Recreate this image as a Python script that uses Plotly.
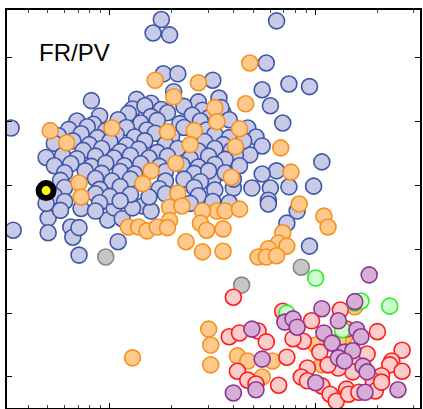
import plotly.graph_objects as go

# log10 of the x ratio, and y value
blue_pts = [
    (0.25, 5.60), (0.21, 5.39), (0.29, 5.36), (0.81, 5.58), (0.76, 4.92), (0.26, 4.75),
    (0.33, 4.75), (0.87, 4.59), (0.97, 4.55), (0.74, 4.50), (-0.09, 4.33), (0.78, 4.25),
    (0.84, 3.98), (-0.48, 3.90), (0.55, 4.14), (0.67, 3.90), (0.71, 3.76), (0.74, 3.62),
    (0.68, 3.48), (1.03, 3.37), (0.81, 3.23), (0.74, 3.18), (0.99, 2.99), (0.87, 2.98),
    (0.78, 2.96), (0.69, 2.96), (0.60, 2.96), (0.77, 2.77), (0.50, 3.09), (0.50, 4.65),
    (0.31, 4.47), (-0.47, 2.30), (-0.30, 2.49), (-0.30, 2.26), (-0.19, 2.35), (-0.18, 2.19),
    (-0.15, 2.34), (-0.15, 1.91), (0.04, 2.12), (-0.01, 2.46), (0.02, 2.65), (0.06, 2.48),
    (0.16, 2.68), (0.20, 2.60), (0.11, 2.65), (0.77, 2.71), (0.91, 2.60), (0.86, 2.41),
    (0.97, 2.05),
    (0.13, 4.35), (0.20, 4.29), (0.43, 4.31), (0.53, 4.37),
    (0.11, 4.20), (0.17, 4.25), (0.25, 4.19), (0.36, 4.24), (0.45, 4.18), (0.54, 4.22),
    (-0.05, 4.09), (0.09, 4.13), (0.20, 4.08), (0.28, 4.14), (0.40, 4.10), (0.48, 4.06),
    (-0.16, 4.01), (-0.08, 3.96), (0.04, 4.03), (0.15, 3.98), (0.23, 4.02), (0.34, 3.97),
    (0.44, 4.01), (0.58, 4.03),
    (-0.20, 3.88), (-0.11, 3.92), (-0.02, 3.86), (0.08, 3.91), (0.18, 3.87), (0.36, 3.91),
    (0.47, 3.87),
    (-0.25, 3.78), (-0.14, 3.81), (-0.06, 3.75), (0.03, 3.80), (0.12, 3.76), (0.22, 3.82),
    (0.30, 3.77), (0.51, 3.80), (0.58, 3.75), (0.65, 3.70),
    (-0.27, 3.66), (-0.18, 3.70), (-0.10, 3.64), (0.00, 3.69), (0.08, 3.63), (0.17, 3.70),
    (0.27, 3.65), (0.46, 3.69), (0.55, 3.64),
    (-0.13, 3.55), (-0.04, 3.58), (0.05, 3.53), (0.14, 3.57), (0.23, 3.52), (0.33, 3.58),
    (0.43, 3.54), (0.51, 3.58), (0.59, 3.55), (0.61, 3.47),
    (-0.31, 3.44), (-0.23, 3.47), (-0.16, 3.42), (-0.07, 3.46), (0.02, 3.43), (0.10, 3.47),
    (0.19, 3.43), (0.28, 3.46), (0.39, 3.42), (0.48, 3.46), (0.56, 3.41),
    (-0.27, 3.31), (-0.19, 3.34), (-0.09, 3.30), (-0.02, 3.35), (0.07, 3.31), (0.15, 3.34),
    (0.24, 3.30), (0.35, 3.32), (0.43, 3.29), (0.51, 3.33), (0.63, 3.31),
    (-0.22, 3.20), (-0.12, 3.23), (-0.04, 3.19), (0.05, 3.22), (0.12, 3.18), (0.27, 3.22),
    (0.41, 3.19), (0.48, 3.23), (0.56, 3.20),
    (-0.24, 3.08), (-0.07, 3.11), (0.01, 3.07), (0.10, 3.10), (0.27, 3.07), (0.36, 3.10),
    (0.44, 3.06), (0.60, 3.10),
    (-0.22, 2.97), (-0.05, 2.94), (0.05, 2.98), (0.24, 2.95), (0.41, 2.97), (0.51, 2.93),
    (-0.27, 2.84), (-0.07, 2.87), (0.00, 2.83), (0.10, 2.86), (0.19, 2.82), (0.27, 2.87),
    (0.43, 2.84),
    (-0.31, 2.72), (-0.22, 2.75), (-0.05, 2.73), (0.05, 2.76), (0.39, 2.72), (0.50, 2.75),
    (0.58, 2.73),
    (-0.24, 2.61), (-0.14, 2.64), (-0.07, 2.60),
]

orange_pts = [
    (0.22, 4.65), (0.43, 4.61), (0.31, 4.39), (0.68, 4.92), (0.66, 4.28), (-0.29, 3.86),
    (-0.21, 3.67), (0.01, 3.90), (0.28, 3.84), (0.41, 3.86), (0.39, 3.64), (0.32, 3.35),
    (0.20, 3.23), (0.16, 3.03), (-0.15, 3.04), (-0.14, 2.82), (0.33, 2.88), (0.51, 4.22),
    (0.52, 4.00), (0.63, 3.89), (0.61, 3.61), (0.83, 3.59), (0.88, 3.21), (0.59, 3.13),
    (0.92, 2.71), (0.52, 2.60), (0.56, 2.60), (0.63, 2.63), (0.45, 2.60), (0.44, 2.41),
    (0.47, 2.30), (0.29, 2.66), (0.35, 2.68), (0.29, 2.45), (0.09, 2.35), (0.14, 2.35),
    (0.18, 2.29), (0.23, 2.35), (0.28, 2.34), (0.37, 2.12), (0.45, 1.96), (0.55, 2.32),
    (0.55, 1.97), (1.04, 2.52), (1.06, 2.35), (0.84, 2.26), (0.82, 2.10), (0.86, 2.05),
    (0.77, 2.01), (0.72, 1.88), (0.76, 1.88), (0.81, 1.90),
    (1.19, 1.10), (1.14, 0.63), (1.11, 0.56), (1.00, 0.50), (1.03, 0.19), (0.62, 0.33),
    (0.67, 0.25), (0.79, 0.25), (0.74, 0.00), (0.48, 0.75), (0.49, 0.50), (0.49, 0.19),
    (0.11, 0.30),
]

gray_pts = [(-0.02, 1.88), (0.64, 1.44), (0.93, 1.72)]

red_pts = [
    (0.60, 1.25), (0.84, 1.03), (0.98, 0.88), (1.12, 1.05), (1.30, 0.71), (1.15, 0.75),
    (0.94, 0.56), (0.89, 0.60), (1.02, 0.39), (1.20, 0.28), (1.25, 0.36), (1.42, 0.42),
    (1.37, 0.25), (1.36, 0.19), (1.42, 0.09), (1.32, 0.02), (1.28, -0.06), (1.18, 0.08),
    (1.11, 0.14), (1.06, 0.19), (0.96, 0.14), (0.93, 0.00), (0.96, -0.06), (1.03, -0.14),
    (1.07, -0.27), (1.10, -0.38), (1.15, -0.19), (1.16, -0.27), (1.21, -0.24), (1.29, -0.22),
    (1.32, -0.08), (0.58, 0.63), (0.63, 0.69), (0.72, 0.72), (0.76, 0.55), (0.62, 0.09),
    (0.67, -0.05), (0.71, -0.11), (0.82, -0.13), (0.86, 0.31),
]

green_pts = [(1.00, 1.55), (0.86, 1.00), (1.19, 1.16), (1.22, 1.19), (1.36, 1.11), (1.13, 0.74)]

purple_pts = [
    (1.26, 1.60), (0.85, 0.86), (0.89, 0.91), (0.91, 0.78), (1.03, 1.07), (1.19, 1.18),
    (1.11, 0.88), (1.20, 0.74), (1.22, 0.63), (1.04, 0.69), (1.08, 0.53), (1.14, 0.39),
    (1.18, 0.41), (1.11, 0.30), (1.14, 0.25), (1.23, 0.17), (1.25, 0.08), (1.00, -0.09),
    (1.24, -0.24), (1.40, -0.20), (0.69, 0.75), (0.74, 0.28), (0.71, -0.20), (0.60, -0.25),
]

highlight_pt = [(-0.31, 2.92)]

groups = [
    (blue_pts, '#c9c9e8', '#3d57a8'),
    (gray_pts, '#c6c6c6', '#888888'),
    (orange_pts, '#ffc98c', '#f7901e'),
    (red_pts, '#ffcccc', '#ff1a1a'),
    (green_pts, '#ccffcc', '#2aee2a'),
    (purple_pts, '#d8aed6', '#8c3590'),
]

fig = go.Figure()
for pts, fill, edge in groups:
    fig.add_trace(go.Scatter(
        x=[10 ** p[0] for p in pts], y=[p[1] for p in pts], mode='markers',
        marker=dict(size=16, color=fill, line=dict(color=edge, width=1.6)),
        showlegend=False))

fig.add_trace(go.Scatter(
    x=[10 ** p[0] for p in highlight_pt], y=[p[1] for p in highlight_pt], mode='markers',
    marker=dict(size=15, color='#ffff00', line=dict(color='black', width=6)),
    showlegend=False))

minor_x = [0.4, 0.5, 0.6, 0.7, 0.8, 0.9, 2, 3, 4, 5, 6, 7, 8, 9, 20, 30]

fig.update_xaxes(type='log', range=[-0.5, 1.507], showgrid=False, zeroline=False,
                 showline=True, linecolor='black', linewidth=2, mirror='ticks',
                 ticks='inside', ticklen=5, tickcolor='black', tickvals=[1, 10],
                 showticklabels=False,
                 minor=dict(ticks='inside', ticklen=3, tickcolor='#444', tickvals=minor_x))
fig.update_yaxes(range=[-0.486, 5.75], showgrid=False, zeroline=False,
                 showline=True, linecolor='black', linewidth=2, mirror='ticks',
                 ticks='inside', ticklen=5, tickcolor='black', dtick=1, tick0=0,
                 showticklabels=False)

fig.add_annotation(text='FR/PV', xref='paper', yref='paper', x=0.073, y=0.892,
                   xanchor='left', yanchor='middle', showarrow=False,
                   font=dict(family='Liberation Sans, Arial', size=24, color='black'))

fig.update_layout(width=423, height=409, margin=dict(l=7, r=1, t=10, b=1),
                  plot_bgcolor='white', paper_bgcolor='white')

# the page body has a default margin; drop it so the figure sits at the window corner
fig.write_html("out.html", config={'displayModeBar': False},
               post_script="document.body.style.margin='0';")
